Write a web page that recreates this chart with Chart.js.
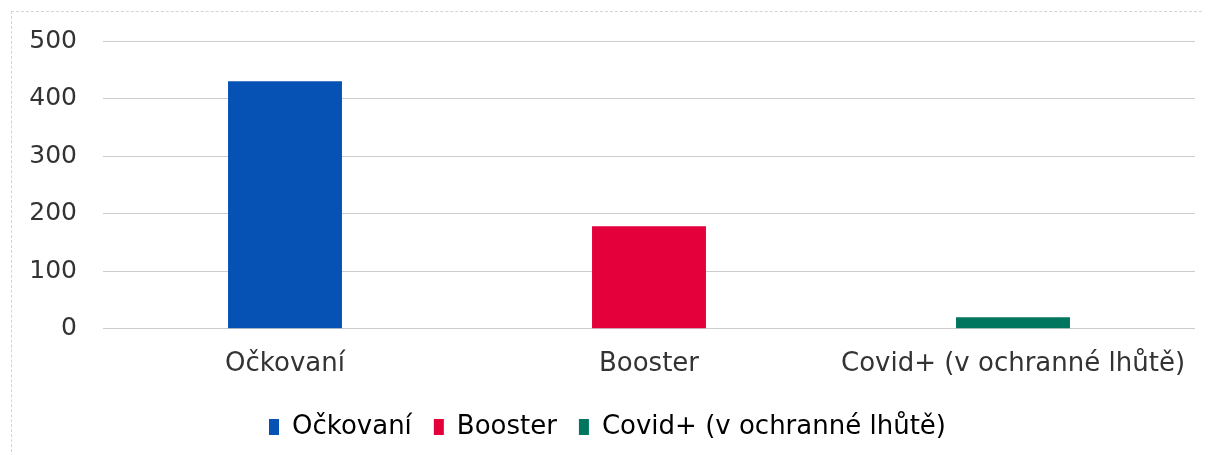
<!DOCTYPE html>
<html>
<head>
<meta charset="utf-8">
<script src="https://cdn.jsdelivr.net/npm/chart.js@4/dist/chart.umd.min.js"></script>
<style>
  html, body { margin: 0; padding: 0; background: #fff; }
  #ramecek {
    position: absolute; left: 11px; top: 11px; width: 1190px; height: 460px;
    border-left: 1px dashed #d4d4d4; border-top: 1px dashed #d4d4d4;
  }
  #obal { position: absolute; left: 0; top: 0; width: 1218px; height: 455px; }
</style>
</head>
<body>
<div id="ramecek"></div>
<div id="obal"><canvas id="graf"></canvas></div>
<script>
const kategorie = ['Očkovaní', 'Booster', 'Covid+ (v ochranné lhůtě)'];
const hodnoty = [430, 178, 20];
const barvy = ['#0652b4', '#e4003a', '#00765e'];
const osaY = [0, 100, 200, 300, 400, 500];

const pismo = "'DejaVu Sans', Verdana, sans-serif";

function vytvorGraf(idCanvas) {
    const ctx = document.getElementById(idCanvas).getContext('2d');
    new Chart(ctx, {
        type: 'bar',
        data: {
            labels: kategorie,
            datasets: [{
                data: hodnoty,
                backgroundColor: barvy,
                categoryPercentage: 1,
                barPercentage: 0.313
            }]
        },
        options: {
            responsive: true,
            maintainAspectRatio: false,
            animation: false,
            layout: { padding: { top: 29, right: 23, left: 20, bottom: 5 } },
            scales: {
                x: {
                    grid: { display: false },
                    border: { display: false },
                    ticks: { color: '#333', font: { family: pismo, size: 26 }, padding: 12, maxRotation: 0 }
                },
                y: {
                    min: 0,
                    max: 500,
                    afterFit: s => { s.width = 83; },
                    afterBuildTicks: s => { s.ticks = osaY.map(v => ({ value: v })); },
                    grid: { color: '#cccccc', drawTicks: false },
                    border: { display: false },
                    ticks: { color: '#333', font: { family: pismo, size: 25 }, padding: 26 }
                }
            },
            plugins: {
                tooltip: { enabled: false },
                legend: {
                    position: 'bottom',
                    labels: {
                        color: '#333',
                        font: { family: pismo, size: 26 },
                        boxWidth: 10,
                        boxHeight: 16,
                        padding: 22,
                        generateLabels: () => kategorie.map((k, i) => ({
                            text: k,
                            fillStyle: barvy[i],
                            strokeStyle: barvy[i],
                            lineWidth: 0,
                            index: i
                        }))
                    }
                }
            }
        }
    });
}

vytvorGraf('graf');
</script>
</body>
</html>
